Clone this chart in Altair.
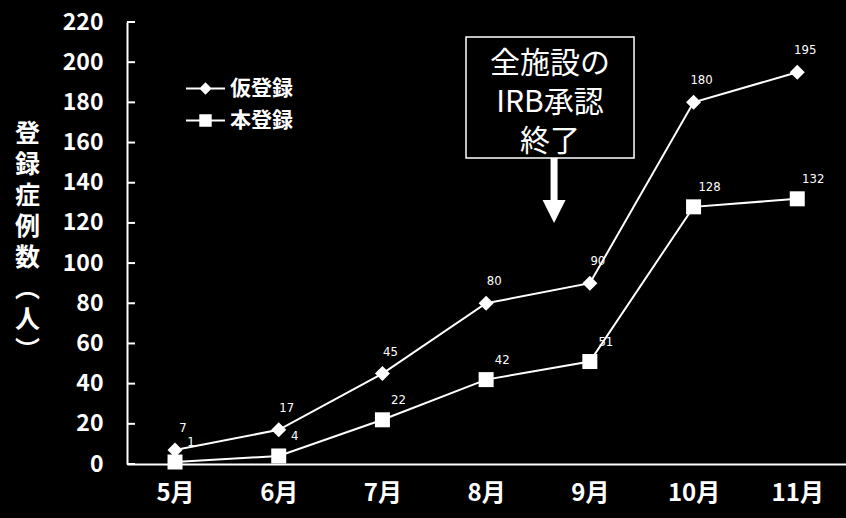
import altair as alt
import pandas as pd

# ---- data ----
months = [5, 6, 7, 8, 9, 10, 11]
kari = [7, 17, 45, 80, 90, 180, 195]      # 仮登録
hon = [1, 4, 22, 42, 51, 128, 132]        # 本登録
series_names = ["仮登録", "本登録"]
y_ticks = list(range(0, 221, 20))
note_lines = ["全施設の", "IRB承認", "終了"]
y_title = ["登", "録", "症", "例", "数", "︵", "人", "︶"]

rows = []
for m, v in zip(months, kari):
    rows.append({"month": m, "value": v, "series": series_names[0]})
for m, v in zip(months, hon):
    rows.append({"month": m, "value": v, "series": series_names[1]})
df = pd.DataFrame(rows)
df_kari = df[df.series == series_names[0]]
df_hon = df[df.series == series_names[1]]

FONT = "Noto Sans CJK JP"
xscale = alt.Scale(domain=[4.537, 11.47], nice=False, zero=False)
yscale = alt.Scale(domain=[0, 220], nice=False)

x_axis = alt.Axis(values=months, labelExpr="datum.value + '月'", ticks=False, grid=False,
                  domainColor="white", domainWidth=2, labelColor="white", labelFontSize=24,
                  labelFont=FONT, labelFontWeight="bold", labelPadding=17, labelFlush=False,
                  title=None)
y_axis = alt.Axis(values=y_ticks, ticks=False, grid=False, domainColor="white", domainWidth=2,
                  labelColor="white", labelFontSize=23, labelFont=FONT, labelFontWeight="bold",
                  labelPadding=24, labelFlush=False,
                  title=y_title, titleAngle=0, titleX=-100, titleY=99, titleBaseline="top",
                  titleAlign="center", titleFontSize=25, titleLineHeight=31,
                  titleColor="white", titleFont=FONT, titleFontWeight="bold")

X = alt.X("month:Q", scale=xscale, axis=x_axis)
Y = alt.Y("value:Q", scale=yscale, axis=y_axis)


def xq(field):
    return alt.X(field, scale=xscale)


def yq(field):
    return alt.Y(field, scale=yscale)


base = alt.Chart(df)

lines = base.mark_line(color="white", strokeWidth=2).encode(
    x=X, y=Y, detail="series:N")

points = base.mark_point(filled=True, color="white", size=225, opacity=1).encode(
    x=xq("month:Q"), y=yq("value:Q"),
    shape=alt.Shape("series:N", scale=alt.Scale(domain=series_names, range=["diamond", "square"]),
                    legend=None))

legend_paths = [
    "M-1.95,-0.09H1.95V0.09H-1.95ZM0,-0.62L0.62,0L0,0.62L-0.62,0Z",
    "M-1.95,-0.09H1.95V0.09H-1.95ZM-0.62,-0.62H0.62V0.62H-0.62Z",
]
legend_carrier = base.mark_point(fill="white", stroke="white", strokeWidth=1, opacity=0).encode(
    x=xq("month:Q"), y=yq("value:Q"),
    shape=alt.Shape("series:N", scale=alt.Scale(domain=series_names, range=legend_paths),
                    legend=alt.Legend(orient="none", legendX=68, legendY=56, title=None,
                                      labelFont=FONT, labelFontSize=21, labelColor="white",
                                      labelFontWeight="bold", symbolSize=400,
                                      symbolStrokeWidth=1, symbolOpacity=1,
                                      symbolFillColor="white", symbolStrokeColor="white",
                                      labelOffset=14, rowPadding=10, padding=0)))

lab_font = "DejaVu Sans Condensed"
labels_kari = alt.Chart(df_kari).mark_text(color="white", fontSize=13, font=lab_font,
                                           dx=8, dy=-22).encode(
    x=xq("month:Q"), y=yq("value:Q"), text="value:Q")
labels_hon = alt.Chart(df_hon).mark_text(color="white", fontSize=13, font=lab_font,
                                         dx=16, dy=-20).encode(
    x=xq("month:Q"), y=yq("value:Q"), text="value:Q")

# inward y ticks
tick_df = pd.DataFrame({"value": y_ticks})
ticks = alt.Chart(tick_df).mark_rule(color="white", strokeWidth=2).encode(
    y=yq("value:Q"), x=alt.value(0), x2=alt.value(8))

# annotation box + arrow
box_df = pd.DataFrame({"month": [7.806], "x2": [9.426], "value": [212.5], "y2": [152.3]})
box = alt.Chart(box_df).mark_rect(fill="black", stroke="white", strokeWidth=1.5).encode(
    x=xq("month:Q"), x2="x2:Q", y=yq("value:Q"), y2="y2:Q")

note_df = pd.DataFrame({"month": [8.616], "value": [199.2], "text": [note_lines]})
note = alt.Chart(note_df).mark_text(color="white", fontSize=30, font=FONT, lineHeight=39,
                                    baseline="middle", align="center").encode(
    x=xq("month:Q"), y=yq("value:Q"), text="text")

shaft_df = pd.DataFrame({"month": [8.655], "value": [152.3], "y2": [130.5]})
shaft = alt.Chart(shaft_df).mark_rule(color="white", strokeWidth=7).encode(
    x=xq("month:Q"), y=yq("value:Q"), y2="y2:Q")

head_df = pd.DataFrame({"month": [8.655], "value": [125.7]})
head = alt.Chart(head_df).mark_point(shape="M-1,-1L1,-1L0,1Z", filled=True, color="white",
                                     size=529, opacity=1).encode(
    x=xq("month:Q"), y=yq("value:Q"))

chart = alt.layer(
    lines, points, legend_carrier, labels_kari, labels_hon, ticks, box, note, shaft, head
).resolve_scale(shape="independent").properties(
    width=719, height=442,
    padding={"left": 127, "top": 22, "right": 0, "bottom": 54},
    autosize=alt.AutoSizeParams(type="none"),
    background="black",
).configure_view(stroke=None)

chart.save("out.html", embed_options={"renderer": "svg", "actions": False})
